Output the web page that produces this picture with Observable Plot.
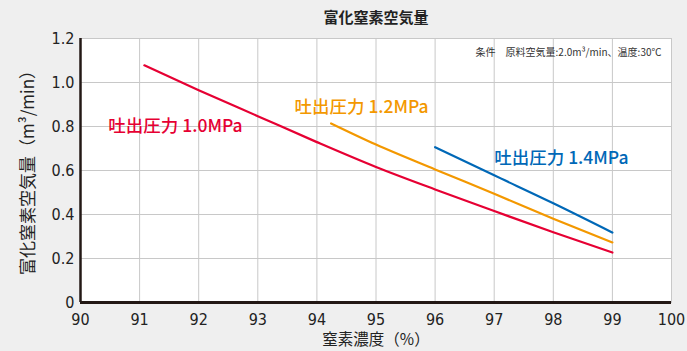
<!DOCTYPE html>
<html><head><meta charset="utf-8">
<script src="https://cdn.jsdelivr.net/npm/d3@7"></script>
<script src="https://cdn.jsdelivr.net/npm/@observablehq/plot@0.6"></script>
<style>
body{margin:0;background:#efefef;font-family:"Noto Sans CJK JP",sans-serif;}
#wrap{position:relative;width:687px;height:351px;}
#title{position:absolute;top:6px;left:276px;width:200px;text-align:center;font-size:15px;line-height:22px;font-weight:bold;color:#222;}
#chart{position:absolute;top:0;left:0;}
</style></head><body>
<div id="wrap"><div id="chart"></div><div id="title">富化窒素空気量</div></div>
<script>
const titleText = "富化窒素空気量";
const xLabel = "窒素濃度（%）";
const yLabel = "富化窒素空気量（m³/min）";
const conditionNote = "条件　原料空気量:2.0m³/min、温度:30℃";

const xTicks = [90, 91, 92, 93, 94, 95, 96, 97, 98, 99, 100];
const yTicks = [0, 0.2, 0.4, 0.6, 0.8, 1.0, 1.2];

const x10 = [91.08, 92, 93, 94, 95, 96, 97, 98, 99];
const y10 = [1.078, 0.965, 0.847, 0.729, 0.616, 0.514, 0.416, 0.319, 0.227];
const x12 = [94.24, 95, 96, 97, 98, 99];
const y12 = [0.814, 0.718, 0.605, 0.494, 0.381, 0.273];
const x14 = [96, 97, 98, 99];
const y14 = [0.706, 0.578, 0.451, 0.318];

const seriesNames = ["吐出圧力 1.0MPa", "吐出圧力 1.2MPa", "吐出圧力 1.4MPa"];
const seriesColors = ["#e60033", "#f39800", "#0068b7"];
const labelX = [90.47, 93.62, 97.0];
const labelY = [0.80, 0.886, 0.655];

const lines = [
  x10.map((x, i) => ({x, y: y10[i], s: seriesNames[0]})),
  x12.map((x, i) => ({x, y: y12[i], s: seriesNames[1]})),
  x14.map((x, i) => ({x, y: y14[i], s: seriesNames[2]}))
].flat();
const labels = seriesNames.map((s, i) => ({s, x: labelX[i], y: labelY[i], c: seriesColors[i]}));

const tickFont = "'Liberation Sans Narrow','DejaVu Sans Condensed',sans-serif";

const plot = Plot.plot({
  width: 687, height: 351,
  marginTop: 38, marginBottom: 49, marginLeft: 80, marginRight: 16,
  style: {background: "transparent", fontFamily: "'Noto Sans CJK JP',sans-serif"},
  x: {domain: [90, 100], ticks: xTicks, label: null},
  y: {domain: [0, 1.2], ticks: yTicks, label: null},
  color: {domain: seriesNames, range: seriesColors},
  marks: [
    Plot.frame({fill: "white", stroke: "#c8c8c8"}),
    Plot.gridX(xTicks, {stroke: "#c8c8c8", strokeOpacity: 1}),
    Plot.gridY(yTicks, {stroke: "#c8c8c8", strokeOpacity: 1}),
    Plot.axisX(xTicks, {tickSize: 0, tickPadding: 11, fontSize: 16, fill: "#222", fontFamily: tickFont, label: null}),
    Plot.axisY(yTicks, {tickSize: 0, tickPadding: 6, fontSize: 16, fill: "#222", fontFamily: tickFont, label: null,
      tickFormat: d => d === 0 ? "0" : d.toFixed(1)}),
    Plot.line(lines, {x: "x", y: "y", z: "s", stroke: "s", strokeWidth: 2.2, curve: "monotone-x"}),
    Plot.ruleX([90], {stroke: "#231815", strokeWidth: 2.5}),
    Plot.ruleY([0], {stroke: "#231815", strokeWidth: 3}),
    Plot.text(labels, {x: "x", y: "y", text: "s", fill: "c", textAnchor: "start", fontSize: 17.5, fontWeight: 500}),
    Plot.text([conditionNote], {frameAnchor: "top-right", textAnchor: "end", lineAnchor: "middle", dx: -10, dy: 14, fontSize: 10, fill: "#333"}),
    Plot.text([xLabel], {frameAnchor: "bottom", textAnchor: "middle", lineAnchor: "middle", dy: 38, fontSize: 15.5, fill: "#222"}),
    Plot.text([yLabel], {frameAnchor: "left", textAnchor: "middle", lineAnchor: "middle", dx: -52, dy: -2, rotate: -90, fontSize: 17, fill: "#222"})
  ]
});
document.getElementById("chart").appendChild(plot);
</script>
</body></html>
